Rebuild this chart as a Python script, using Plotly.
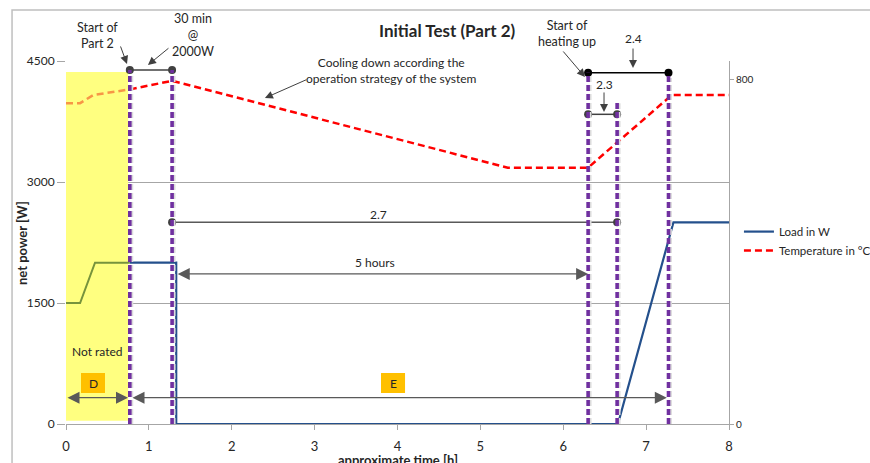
import plotly.graph_objects as go

# ---- data -------------------------------------------------------------
# load before Part 2 (not rated)
pre_hours = [0.0, 0.17, 0.35, 0.77]
pre_load = [1500, 1500, 2000, 2000]

# load during Part 2
load_hours = [0.77, 1.33, 1.33, 6.66, 7.33, 8.0]
load_watts = [2000, 2000, 0, 0, 2500, 2500]

# temperature before Part 2
pre_temp_hours = [0.0, 0.17, 0.33, 0.77]
pre_temp = [746, 746, 765, 778]

# temperature during Part 2
temp_hours = [0.77, 1.28, 5.33, 6.30, 7.31, 8.0]
temp_c = [778, 798, 596, 596, 765, 765]

# event markers (hours)
t_part2 = 0.77
t_heat_off = 1.28
t_heat_on = 6.30
t_load_on = 6.65
t_target = 7.27

x_ticks = [0, 1, 2, 3, 4, 5, 6, 7, 8]
y_ticks = [0, 1500, 3000, 4500]
y2_ticks = [0, 800]

# ---- styles -----------------------------------------------------------
FONT = "Lato"
TXT = "#262626"
GRID = "#A6A6A6"
PURPLE = "#7030A0"
DARK = "#404040"
Y_MAX = 4500

fig = go.Figure()

# shaded "not rated" region
fig.add_shape(type="rect", xref="x", yref="y", x0=0, x1=0.75, y0=40, y1=4364,
              fillcolor="#FFFF80", line_width=0, layer="between")

fig.add_trace(go.Scatter(x=pre_hours, y=pre_load, mode="lines",
                         line=dict(color="#77933C", width=2), showlegend=False,
                         hoverinfo="skip"))
fig.add_trace(go.Scatter(x=load_hours, y=load_watts, mode="lines", name="Load in W",
                         line=dict(color="#24508C", width=2.2)))
fig.add_trace(go.Scatter(x=temp_hours, y=temp_c, mode="lines", name="Temperature in °C",
                         yaxis="y2", line=dict(color="#FF0000", width=2.5, dash="7px,4px")))
fig.add_trace(go.Scatter(x=pre_temp_hours, y=pre_temp, mode="lines", yaxis="y2",
                         line=dict(color="#F79646", width=2.5, dash="7px,4px"),
                         showlegend=False, hoverinfo="skip"))

# vertical event lines (dotted purple with a soft shadow)
event_lines = [(t_part2, 4389), (t_heat_off, 4389), (t_heat_on, 4355),
               (t_load_on, 4017), (t_target, 4330)]
for t, top in event_lines:
    fig.add_shape(type="line", xref="x", yref="y", x0=t + 0.022, x1=t + 0.022,
                  y0=0, y1=top - 40, line=dict(color="#DCDCDC", width=3.2, dash="6px,3px"))
    fig.add_shape(type="line", xref="x", yref="y", x0=t, x1=t, y0=0, y1=top,
                  line=dict(color=PURPLE, width=3.6, dash="6px,3px"))

# dimension lines with end dots
dims = [((t_part2, t_heat_off), 4389, DARK, DARK),
        ((t_heat_on, t_target), 4355, "#000000", "#000000"),
        ((t_heat_on, t_load_on), 3839, DARK, DARK),
        ((t_heat_off, t_load_on), 2500, "#595959", DARK)]
for (a, b), yv, col, dot in dims:
    fig.add_trace(go.Scatter(x=[a, b], y=[yv, yv], mode="lines+markers",
                             line=dict(color=col, width=1.5),
                             marker=dict(color=dot, size=8),
                             showlegend=False, hoverinfo="skip"))

annotations = []


def text(x, y, s, size=12, bold=False, xref="x", yref="y", **kw):
    annotations.append(dict(x=x, y=y, xref=xref, yref=yref, text=f"<b>{s}</b>" if bold else s,
                            showarrow=False, xanchor="center", yanchor="middle",
                            font=dict(family=FONT, size=size, color=TXT), **kw))


def top_text(x, watts, s, **kw):
    # text above the plot area, positioned on the watt scale
    text(x, watts / Y_MAX, s, yref="paper", **kw)


def arrow(x, y, ax, ay, color=DARK, size=1.6):
    annotations.append(dict(x=x, y=y, xref="x", yref="y", ax=ax, ay=ay, text="",
                            showarrow=True, arrowhead=2, arrowsize=size, arrowwidth=1,
                            arrowcolor=color))


def double_arrow(x0, x1, y, color="#595959"):
    annotations.append(dict(x=x1, y=y, xref="x", yref="y", ax=x0, ay=y, axref="x", ayref="y",
                            text="", showarrow=True, arrowhead=2, startarrowhead=2,
                            arrowside="end+start", arrowsize=2.0, startarrowsize=2.0,
                            arrowwidth=1.2, arrowcolor=color))


# labels and callouts
top_text(0.374, 4815, "Start of<br>Part 2", size=12.5)
arrow(0.736, 4463, -7, -19)
top_text(1.533, 4822, "30 min<br>@<br>2000W", size=12.5)
arrow(0.989, 4450, 22, -18)
text(3.93, 4380, "Cooling down according the<br>operation strategy of the system")
arrow(2.40, 4041, 43, -19)
top_text(6.05, 4840, "Start of<br>heating up", size=12.5)
arrow(6.262, 4302, -23, -27)
top_text(6.842, 4775, "2.4")
arrow(6.842, 4413, 0, -21)
text(6.492, 4210, "2.3")
arrow(6.492, 3868, 0, -21)
text(3.765, 2591, "2.7")
text(3.73, 2008, "5 hours")
double_arrow(1.33, t_heat_on, 1860)
text(0.38, 905, "Not rated")
double_arrow(0.0, 0.748, 326)
double_arrow(0.784, 7.25, 326)
for cx, lbl in [(0.326, "D"), (3.946, "E")]:
    fig.add_shape(type="rect", xref="x", yref="y", x0=cx - 0.145, x1=cx + 0.145,
                  y0=384, y1=632, fillcolor="#FFC000", line_width=0, layer="above")
    text(cx, 508, lbl)

# titles
text(0.5747, 1.085, "Initial Test (Part 2)", size=17, bold=True, xref="paper", yref="paper")
text(-0.0664, 0.4986, "net power [W]", size=13, bold=True, xref="paper", yref="paper",
     textangle=-90)
text(0.50, -0.098, "approximate time [h]", size=13, bold=True, xref="paper", yref="paper")

# outer chart frame
fig.add_shape(type="rect", xref="paper", yref="paper", x0=-0.0814, x1=1.5, y0=-0.5, y1=1.1405,
              line=dict(color="#BFBFBF", width=1.5), fillcolor="rgba(0,0,0,0)", layer="above")

fig.update_layout(
    width=870, height=463,
    margin=dict(l=66, r=141, t=61, b=39, autoexpand=False),
    paper_bgcolor="white", plot_bgcolor="white",
    font=dict(family=FONT, size=12, color=TXT),
    annotations=annotations,
    showlegend=True,
    legend=dict(x=1.015, y=0.57, xanchor="left", yanchor="top",
                font=dict(family=FONT, size=11.5, color=TXT), bgcolor="rgba(0,0,0,0)"),
    xaxis=dict(range=[0, 8], tickvals=x_ticks, showgrid=False, zeroline=False,
               showline=True, linecolor=GRID, linewidth=1, ticks="outside", ticklen=5,
               tickcolor=GRID, tickfont=dict(size=13), ticklabelstandoff=5),
    yaxis=dict(range=[0, 4500], tickvals=y_ticks, showgrid=True, gridcolor=GRID,
               gridwidth=1, zeroline=False, showline=False, ticks="outside", ticklen=8,
               tickcolor=GRID, tickfont=dict(size=12)),
    yaxis2=dict(range=[0, 844], tickvals=y2_ticks, overlaying="y", side="right",
                showgrid=False, zeroline=False, showline=True, linecolor=GRID,
                ticks="outside", ticklen=4, tickcolor=GRID, tickfont=dict(size=10)),
)

fig.write_html("out.html")
